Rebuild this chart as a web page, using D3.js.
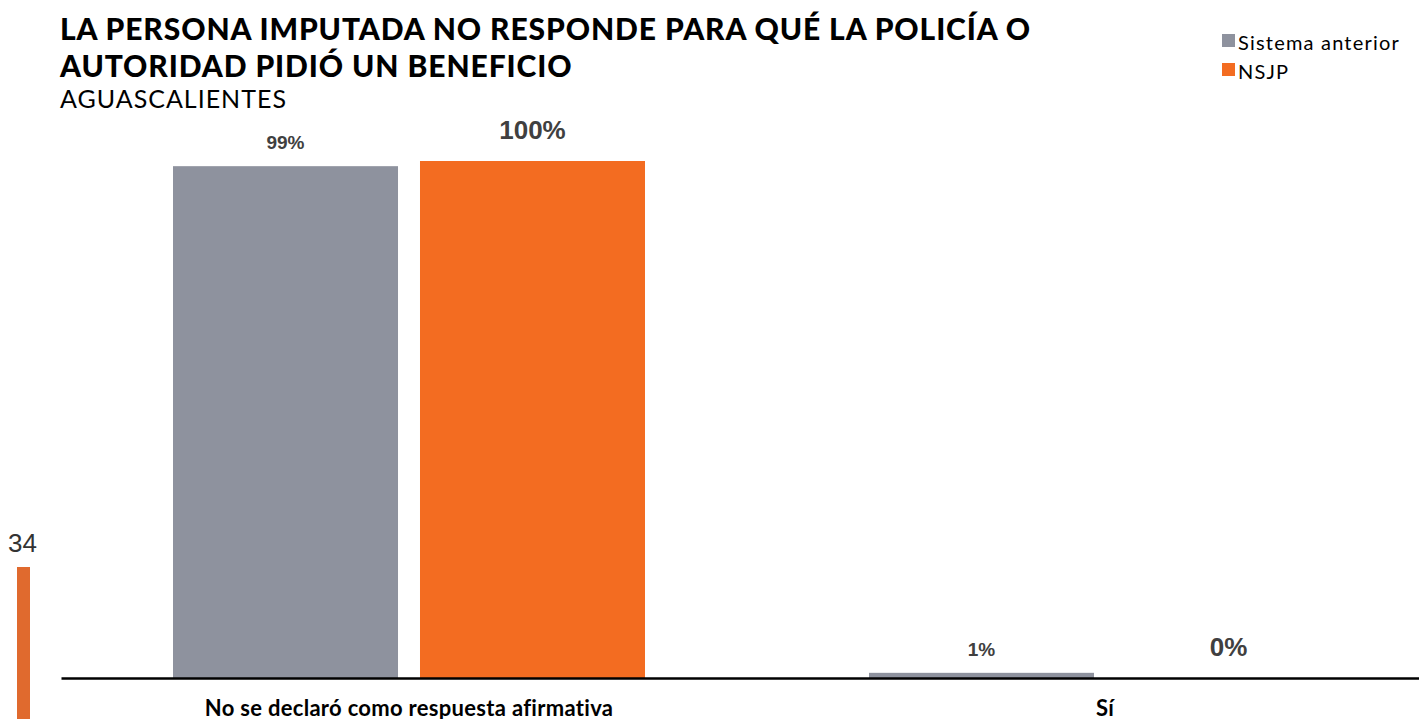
<!DOCTYPE html>
<html>
<head>
<meta charset="utf-8">
<script src="https://cdn.jsdelivr.net/npm/d3@7"></script>
<style>
  html, body { margin: 0; padding: 0; background: #fff; overflow: hidden; }
  svg { display: block; }
</style>
</head>
<body>
<script>
// Chart data
const categories = ["No se declaró como respuesta afirmativa", "Sí"];
const seriesNames = ["Sistema anterior", "NSJP"];
const sistemaAnterior = [99, 1];
const nsjp = [100, 0];
const seriesColors = ["#8E929E", "#F36C21"];

const W = 1419, H = 719;
const svg = d3.select("body").append("svg").attr("width", W).attr("height", H);

const baseline = 678;
const y = d3.scaleLinear().domain([0, 100]).range([baseline, 161]);
const x0 = d3.scaleBand().domain(categories).range([61, 1453]).paddingInner(0).paddingOuter(0);
const x1 = d3.scaleBand().domain(seriesNames).range([112, x0.bandwidth() - 112]).paddingInner(0.089);

const rows = categories.map((c, i) => ({
  cat: c,
  vals: [sistemaAnterior[i], nsjp[i]]
}));

// Bars
const g = svg.append("g");
const grp = g.selectAll("g.cat").data(rows).join("g")
  .attr("class", "cat")
  .attr("transform", d => `translate(${x0(d.cat)},0)`);

grp.selectAll("rect").data(d => d.vals.map((v, j) => ({ v, s: seriesNames[j], j })))
  .join("rect")
  .attr("x", d => x1(d.s))
  .attr("width", x1.bandwidth())
  .attr("y", d => y(d.v))
  .attr("height", d => baseline - y(d.v))
  .attr("fill", d => seriesColors[d.j]);

// Value labels
grp.selectAll("text.val").data(d => d.vals.map((v, j) => ({ v, s: seriesNames[j], j })))
  .join("text")
  .attr("class", "val")
  .attr("x", d => x1(d.s) + x1.bandwidth() / 2)
  .attr("y", d => y(d.v) - (d.j === 0 ? 17 : 22))
  .attr("text-anchor", "middle")
  .attr("font-family", "'Liberation Sans', Arial, sans-serif")
  .attr("font-weight", "bold")
  .attr("font-size", d => d.j === 0 ? 19 : 26)
  .attr("fill", "#404040")
  .text(d => d.v + "%");

// Baseline axis
const xAxis = d3.axisBottom(x0).tickSize(0).tickPadding(0);
const ax = svg.append("g").attr("transform", `translate(0,${baseline})`).call(xAxis);
ax.select(".domain").attr("stroke", "#000").attr("stroke-width", 2.5);
ax.selectAll(".tick text")
  .attr("dy", 0)
  .attr("y", 38)
  .attr("font-family", "Lato, sans-serif")
  .attr("font-weight", "bold")
  .attr("font-size", 22)
  .attr("letter-spacing", 0.3)
  .attr("fill", "#000");

// Title block
const title = svg.append("text")
  .attr("font-family", "Lato, sans-serif")
  .attr("font-weight", 900)
  .attr("font-size", 30)
  .attr("letter-spacing", 0.9)
  .attr("fill", "#000");
title.append("tspan").attr("x", 60).attr("y", 40).text("LA PERSONA IMPUTADA NO RESPONDE PARA QUÉ LA POLICÍA O");
title.append("tspan").attr("x", 60).attr("y", 77).text("AUTORIDAD PIDIÓ UN BENEFICIO");

svg.append("text")
  .attr("x", 60).attr("y", 108)
  .attr("font-family", "Lato, sans-serif")
  .attr("font-size", 25)
  .attr("letter-spacing", 1)
  .attr("fill", "#000")
  .text("AGUASCALIENTES");

// Legend
const leg = svg.append("g").attr("transform", "translate(1222,33)");
const li = leg.selectAll("g").data(seriesNames).join("g")
  .attr("transform", (d, i) => `translate(0,${i * 29})`);
li.append("rect").attr("width", 13).attr("height", 13).attr("y", 1)
  .attr("fill", (d, i) => seriesColors[i]);
li.append("text").attr("x", 16).attr("y", 17)
  .attr("font-family", "Lato, sans-serif")
  .attr("font-size", 20)
  .attr("letter-spacing", 1.2)
  .attr("fill", "#000")
  .text(d => d);

// Page marker
svg.append("text")
  .attr("x", 8).attr("y", 552)
  .attr("font-family", "'Liberation Sans', Arial, sans-serif")
  .attr("font-size", 26)
  .attr("fill", "#333")
  .text("34");
svg.append("rect").attr("x", 17).attr("y", 567).attr("width", 13).attr("height", 152)
  .attr("fill", "#E06A2E");
</script>
</body>
</html>
